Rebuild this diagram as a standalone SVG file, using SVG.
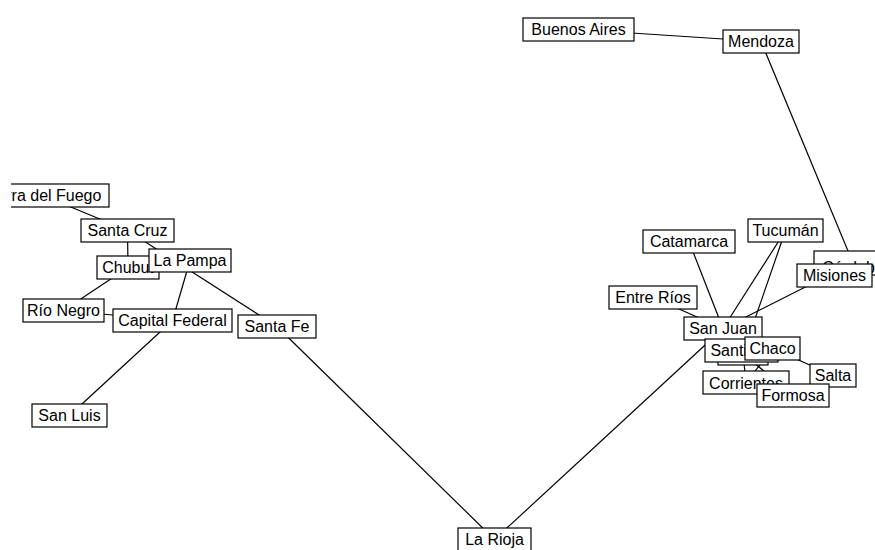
<svg xmlns="http://www.w3.org/2000/svg" width="875" height="550" viewBox="0 0 875 550">
<defs>
<style>
.n rect{fill:#fff;stroke:#000;stroke-width:1.2}
.n text{font-family:"Liberation Sans",Arial,sans-serif;font-size:16px;fill:#000;text-anchor:middle}
#edges line{stroke:#000;stroke-width:1.2}
.hid{fill:#fff;stroke:#000;stroke-width:1.2}
</style>
<clipPath id="clip"><rect x="11" y="0" width="864" height="550"/></clipPath>
</defs>
<rect width="875" height="550" fill="#fff"/>
<g clip-path="url(#clip)">
<g id="edges">
<line x1="578.5" y1="29.5" x2="761" y2="41.5"/>
<line x1="761" y1="41.5" x2="853" y2="263"/>
<line x1="853" y1="263" x2="723" y2="328.5"/>
<line x1="785.5" y1="230.5" x2="723" y2="328.5"/>
<line x1="785.5" y1="230.5" x2="743" y2="353.5"/>
<line x1="689" y1="241.5" x2="723" y2="328.5"/>
<line x1="653" y1="297.5" x2="723" y2="328.5"/>
<line x1="494.5" y1="539.5" x2="723" y2="328.5"/>
<line x1="277" y1="326.5" x2="494.5" y2="539.5"/>
<line x1="127.5" y1="230.5" x2="277" y2="326.5"/>
<line x1="43" y1="195.5" x2="127.5" y2="230.5"/>
<line x1="127.5" y1="230.5" x2="128" y2="267.5"/>
<line x1="128" y1="267.5" x2="63.5" y2="310.5"/>
<line x1="63.5" y1="310.5" x2="172.5" y2="320.5"/>
<line x1="190" y1="260.5" x2="172.5" y2="320.5"/>
<line x1="172.5" y1="320.5" x2="69.5" y2="415.5"/>
<line x1="773" y1="348.5" x2="833" y2="375.5"/>
<line x1="743" y1="353.5" x2="793" y2="395.5"/>
<line x1="773" y1="348.5" x2="746" y2="382.5"/>
<line x1="743" y1="353.5" x2="746" y2="382.5"/>
</g>
<rect class="hid" x="718" y="342" width="50" height="23"/>
<g id="tierra-del-fuego" class="n"><rect x="-23" y="184" width="132" height="23"/><text x="43" y="201">Tierra del Fuego</text></g>
<g id="santa-cruz" class="n"><rect x="81" y="219" width="93" height="23"/><text x="127.5" y="236">Santa Cruz</text></g>
<g id="chubut" class="n"><rect x="97" y="256" width="62" height="23"/><text x="128" y="273">Chubut</text></g>
<g id="la-pampa" class="n"><rect x="149" y="249" width="82" height="23"/><text x="190" y="266">La Pampa</text></g>
<g id="rio-negro" class="n"><rect x="23" y="299" width="81" height="23"/><text x="63.5" y="316">Río Negro</text></g>
<g id="capital-federal" class="n"><rect x="113" y="309" width="119" height="23"/><text x="172.5" y="326">Capital Federal</text></g>
<g id="santa-fe" class="n"><rect x="238" y="315" width="78" height="23"/><text x="277" y="332">Santa Fe</text></g>
<g id="san-luis" class="n"><rect x="32" y="404" width="75" height="23"/><text x="69.5" y="421">San Luis</text></g>
<g id="la-rioja" class="n"><rect x="458" y="528" width="73" height="23"/><text x="494.5" y="545">La Rioja</text></g>
<g id="buenos-aires" class="n"><rect x="523" y="18" width="111" height="23"/><text x="578.5" y="35">Buenos Aires</text></g>
<g id="mendoza" class="n"><rect x="723" y="30" width="76" height="23"/><text x="761" y="47">Mendoza</text></g>
<g id="cordoba" class="n"><rect x="814" y="251" width="78" height="24"/><text x="853" y="273">Córdoba</text></g>
<g id="misiones" class="n"><rect x="797" y="264" width="75" height="23"/><text x="834.5" y="281">Misiones</text></g>
<g id="tucuman" class="n"><rect x="748" y="219" width="75" height="23"/><text x="785.5" y="236">Tucumán</text></g>
<g id="catamarca" class="n"><rect x="643" y="230" width="92" height="23"/><text x="689" y="247">Catamarca</text></g>
<g id="entre-rios" class="n"><rect x="609" y="286" width="88" height="23"/><text x="653" y="303">Entre Ríos</text></g>
<g id="san-juan" class="n"><rect x="684" y="317" width="78" height="23"/><text x="723" y="334">San Juan</text></g>
<g id="santiago" class="n"><rect x="705" y="339" width="73" height="23"/><text x="742" y="356">Santiago</text></g>
<g id="chaco" class="n"><rect x="745" y="337" width="55" height="23"/><text x="772.5" y="354">Chaco</text></g>
<g id="salta" class="n"><rect x="810" y="364" width="46" height="23"/><text x="833" y="381">Salta</text></g>
<g id="corrientes" class="n"><rect x="703" y="371" width="86" height="23"/><text x="746" y="389">Corrientes</text></g>
<g id="formosa" class="n"><rect x="757" y="384" width="72" height="23"/><text x="793" y="401">Formosa</text></g>
</g>
</svg>
